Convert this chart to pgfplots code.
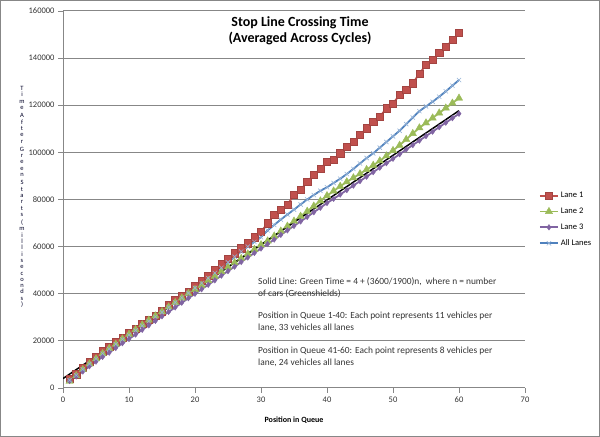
\documentclass[border=0pt]{standalone}
\usepackage{fontspec}
\setmainfont{Carlito}
\usepackage{pgfplots}
\usepackage{pgfplotstable}
\pgfplotsset{compat=1.18}
\definecolor{laneone}{HTML}{C0504D}
\definecolor{lanetwo}{HTML}{9BBB59}
\definecolor{lanethree}{HTML}{8064A2}
\definecolor{laneall}{HTML}{4F81BD}
\definecolor{gridgray}{HTML}{878787}

\pgfplotstableread{
n l1 l2 l3 all
1 3800 2800 3000 3300
2 5800 5200 4900 5400
3 8600 7800 7000 7900
4 11000 10200 9200 10200
5 13200 12400 11200 12400
6 15600 14600 13200 14600
7 17600 16800 15000 16600
8 19600 18600 17000 18600
9 21400 20800 19000 20600
10 23400 22800 20800 22500
11 25300 24800 22700 24400
12 27200 26800 24700 26400
13 29000 28800 26600 28300
14 30800 30600 28500 30200
15 32600 32400 30400 32100
16 35200 34400 32300 34300
17 37300 36300 34200 36300
18 39200 38200 36200 38300
19 41000 40100 38100 40300
20 43200 41800 40000 42500
21 45400 43600 41900 44500
22 47600 45600 43800 46600
23 50000 47400 45700 48800
24 52500 49400 47700 51000
25 55000 51300 49600 53300
26 57200 53200 51500 55700
27 59300 55000 53500 57900
28 61400 56900 55400 60000
29 64000 58800 57300 62000
30 66300 60800 59200 64000
31 69900 62400 61100 66900
32 73400 64500 63000 69200
33 75600 66600 65000 71500
34 77800 68700 66900 73600
35 81900 70800 68800 75700
36 84000 72900 70700 77900
37 87600 75000 72600 80000
38 90400 77200 74600 81900
39 93200 79400 76500 83700
40 96000 81600 78500 85200
41 96800 83600 80300 87000
42 99600 85600 82100 88800
43 102400 87500 84000 90800
44 104500 89200 85900 93000
45 107400 90900 87800 95300
46 110200 92700 89700 97600
47 113000 94500 91600 99600
48 115100 96400 93500 102000
49 118700 98500 95400 104400
50 120800 100800 97300 106800
51 124300 103000 99200 109200
52 126500 105500 101200 112000
53 129300 108000 103100 114800
54 133500 110400 105000 117500
55 137100 112500 106900 119500
56 139200 114600 108800 121500
57 142200 116700 110700 123600
58 144700 118800 112600 125900
59 147700 120900 114500 128300
60 150600 123000 116400 130700
}\lanedata

\begin{document}
\begin{tikzpicture}[x=1bp,y=1bp]
\draw[color=gridgray, line width=1bp] (0.5,0.5) rectangle (599.5,436.5);
\begin{axis}[
  at={(63bp,49bp)}, anchor=south west,
  scale only axis, width=462bp, height=377bp,
  xmin=0, xmax=70, ymin=0, ymax=160000,
  xtick={0,10,...,70}, ytick={0,20000,...,160000},
  scaled ticks=false,
  /pgf/number format/fixed,
  /pgf/number format/precision=0,
  /pgf/number format/1000 sep={},
  /pgf/number format/assume math mode=true,
  axis x line*=bottom, axis y line*=left,
  axis line style={gridgray, line width=1bp},
  ymajorgrids, grid style={gridgray, line width=1bp},
  tick style={gridgray, line width=0.8bp}, tick align=outside, major tick length=5bp,
  ticklabel style={font=\fontsize{8.5bp}{10bp}\selectfont, text=black!80},
  xlabel={Position in Queue},
  xlabel style={font=\bfseries\fontsize{8bp}{10bp}\selectfont, at={(axis description cs:0.5,-0.085)}, anchor=center},
  legend style={at={(1.03,0.525)}, anchor=north west, draw=none, fill=none,
    font=\fontsize{8.5bp}{10bp}\selectfont, row sep=4.8bp, inner sep=0pt},
  legend cell align=left,
  legend image code/.code={\draw[mark repeat=2,mark phase=2] plot coordinates {(0bp,0bp)(9bp,0bp)(18bp,0bp)};},
]
\addplot[laneone, line width=1.8bp, mark=square*, mark size=3.6bp, mark options={fill=laneone, draw=laneone!85!black, line width=0.5bp}] table[x=n, y=l1] {\lanedata};
\addlegendentry{Lane 1}
\addplot[lanetwo, line width=1.8bp, mark=triangle*, mark size=4.2bp, mark options={fill=lanetwo, draw=lanetwo, line width=0.4bp}] table[x=n, y=l2] {\lanedata};
\addlegendentry{Lane 2}
\addplot[lanethree, line width=1.8bp, mark=diamond*, mark size=2.8bp, mark options={fill=lanethree, draw=lanethree, line width=0.4bp}] table[x=n, y=l3] {\lanedata};
\addlegendentry{Lane 3}
\addplot[laneall, line width=1.8bp, mark=x, mark size=3bp, mark options={draw=laneall!60, line width=0.6bp}] table[x=n, y=all] {\lanedata};
\addlegendentry{All Lanes}
\addplot[black, line width=1.5bp, forget plot] coordinates {(0,4000) (60,117684)};
\end{axis}
\node[font=\bfseries\fontsize{14bp}{16.5bp}\selectfont, align=center, text=black] at (300,406) {Stop Line Crossing Time\\(Averaged Across Cycles)};
\node[anchor=north west, align=left, inner sep=0pt, text=black!80, font=\fontsize{9.4bp}{12bp}\selectfont] at (258,160) {Solid Line: Green Time = 4 + (3600/1900)n,~ where n = number\\of cars (Greenshields)};
\node[anchor=north west, align=left, inner sep=0pt, text=black!80, font=\fontsize{9.4bp}{12bp}\selectfont] at (258,125) {Position in Queue 1-40: Each point represents 11 vehicles per\\lane, 33 vehicles all lanes};
\node[anchor=north west, align=left, inner sep=0pt, text=black!80, font=\fontsize{9.4bp}{12bp}\selectfont] at (258,90) {Position in Queue 41-60: Each point represents 8 vehicles per\\lane, 24 vehicles all lanes};
\node[align=center, inner sep=0pt, text=black!85!blue, font=\fontsize{6.5bp}{6.3bp}\selectfont] at (22,240) {T\\i\\m\\e\\[2bp]A\\f\\t\\e\\r\\[2bp]G\\r\\e\\e\\n\\[2bp]S\\t\\a\\r\\t\\s\\[2bp](\\m\\i\\l\\l\\i\\s\\e\\c\\o\\n\\d\\s\\)};
\end{tikzpicture}
\end{document}
